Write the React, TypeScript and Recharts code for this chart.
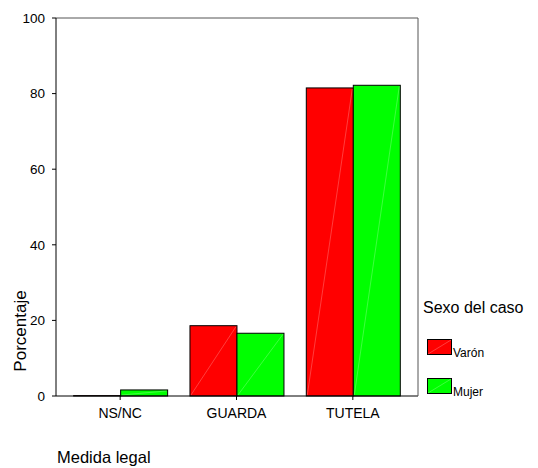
import { BarChart, Bar, XAxis, YAxis } from "recharts";

const categories: string[] = ["NS/NC", "GUARDA", "TUTELA"];
const varon: number[] = [0.1, 18.6, 81.5];
const mujer: number[] = [1.6, 16.6, 82.2];
const yTicks: number[] = [0, 20, 40, 60, 80, 100];

const series = [
  { key: "varon", name: "Varón", color: "#ff0000" },
  { key: "mujer", name: "Mujer", color: "#00ff00" },
];

const data = categories.map((c, i) => ({
  medida: c,
  varon: varon[i],
  mujer: mujer[i],
}));

const FONT = "'Liberation Sans', Arial, sans-serif";

// bar with black outline and the faint diagonal seen in the original
const HatchBar = (props: any) => {
  const { x, y, width, height, fill } = props;
  if (width == null) return null;
  return (
    <g>
      <rect x={x} y={y} width={width} height={height} fill={fill} stroke="#000" strokeWidth={1} />
      {height > 2 && (
        <line
          x1={x + 1}
          y1={y + height - 1}
          x2={x + width - 1}
          y2={y + 1}
          stroke="rgba(255,255,255,0.3)"
          strokeWidth={0.8}
        />
      )}
    </g>
  );
};

// legend drawn beside the plot, like the SPSS output
const LegendBox = () => (
  <svg
    width={120}
    height={110}
    style={{ position: "absolute", left: 418, top: 295, fontFamily: FONT }}
  >
    <text x={5} y={18} fontSize={16} fill="#000">
      Sexo del caso
    </text>
    {series.map((s, i) => {
      const top = 44 + i * 39;
      return (
        <g key={s.key}>
          <rect x={9.5} y={top + 0.5} width={24} height={15} fill={s.color} stroke="#000" />
          <line x1={10} y1={top + 15} x2={33} y2={top + 1} stroke="rgba(255,255,255,0.3)" strokeWidth={0.8} />
          <text x={35} y={top + 18} fontSize={12} fill="#000">
            {s.name}
          </text>
        </g>
      );
    })}
  </svg>
);

export default function App() {
  return (
    <div style={{ position: "absolute", left: 0, top: 0, width: 538, height: 468, fontFamily: FONT }}>
      <BarChart
        width={538}
        height={468}
        data={data}
        margin={{ top: 17, right: 119, bottom: 0, left: 0 }}
        barGap={0}
        barCategoryGap="10%"
      >
        <XAxis
          dataKey="medida"
          height={72}
          padding={{ left: 6, right: 7 }}
          axisLine={{ stroke: "#000" }}
          tickLine={{ stroke: "#000" }}
          tickSize={4}
          tickMargin={8}
          tick={{ fill: "#000", fontSize: 14 }}
          label={{
            content: () => (
              <text x={57} y={463} fontSize={16.5} fill="#000" fontFamily={FONT}>
                Medida legal
              </text>
            ),
          }}
        />
        <XAxis
          xAxisId="top"
          dataKey="medida"
          orientation="top"
          height={1}
          tick={false}
          tickLine={false}
          axisLine={{ stroke: "#555" }}
        />
        <YAxis
          width={56}
          domain={[0, 100]}
          ticks={yTicks}
          axisLine={{ stroke: "#000" }}
          tickLine={{ stroke: "#000" }}
          tickSize={4}
          tickMargin={7}
          tick={{ fill: "#000", fontSize: 13.5 }}
          label={{
            content: () => (
              <text
                x={26}
                y={331}
                fontSize={17}
                fill="#000"
                fontFamily={FONT}
                textAnchor="middle"
                transform="rotate(-90 26 331)"
              >
                Porcentaje
              </text>
            ),
          }}
        />
        <YAxis
          yAxisId="right"
          orientation="right"
          width={1}
          domain={[0, 100]}
          tick={false}
          tickLine={false}
          axisLine={{ stroke: "#555" }}
        />
        {series.map((s) => (
          <Bar
            key={s.key}
            dataKey={s.key}
            name={s.name}
            fill={s.color}
            shape={<HatchBar />}
            isAnimationActive={false}
          />
        ))}
      </BarChart>
      <LegendBox />
    </div>
  );
}
